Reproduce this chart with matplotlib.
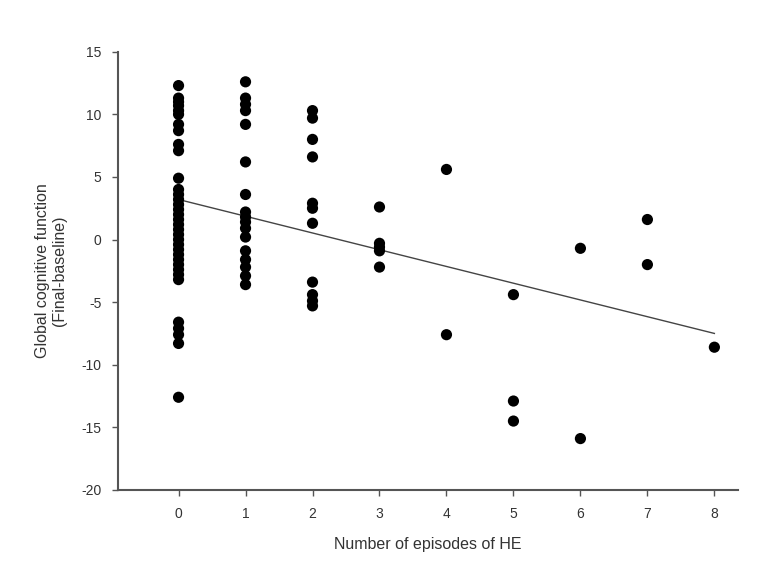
import matplotlib
matplotlib.use("Agg")
import matplotlib.pyplot as plt

plt.rcParams['font.family'] = ['Liberation Sans', 'DejaVu Sans']
plt.rcParams['axes.unicode_minus'] = False

# Data: number of HE episodes vs change in global cognitive function
ep0 = [12.3, 11.3, 11.0, 10.7, 10.3, 10.0, 9.2, 8.7, 7.6, 7.1, 4.9,
       4.0, 3.6, 3.2, 2.8, 2.4, 2.0, 1.6, 1.2, 0.8, 0.4, 0.0, -0.4, -0.8,
       -1.2, -1.6, -2.0, -2.4, -2.8, -3.2, -6.6, -7.1, -7.6, -8.3, -12.6]
ep1 = [12.6, 11.3, 10.8, 10.3, 9.2, 6.2, 3.6, 2.2, 1.8, 1.4, 0.9, 0.2,
       -0.9, -1.6, -2.2, -2.9, -3.6]
ep2 = [10.3, 9.7, 8.0, 6.6, 2.9, 2.5, 1.3, -3.4, -4.4, -4.9, -5.3]
ep3 = [2.6, -0.3, -0.6, -0.9, -2.2]
ep4 = [5.6, -7.6]
ep5 = [-4.4, -12.9, -14.5]
ep6 = [-0.7, -15.9]
ep7 = [1.6, -2.0]
ep8 = [-8.6]
episodes = [0, 1, 2, 3, 4, 5, 6, 7, 8]
groups = [ep0, ep1, ep2, ep3, ep4, ep5, ep6, ep7, ep8]

# Regression line endpoints
fit_x = [0, 8]
fit_y = [3.2, -7.5]

x_ticks = [0, 1, 2, 3, 4, 5, 6, 7, 8]
y_ticks = [-20, -15, -10, -5, 0, 5, 10, 15]

fig = plt.figure(figsize=(7.63, 5.69), dpi=100)
ax = fig.add_axes([0.155, 0.139, 0.812, 0.770])

for xv, ys in zip(episodes, groups):
    ax.scatter([xv] * len(ys), ys, s=65, color='black', edgecolors='none', zorder=3)

ax.plot(fit_x, fit_y, color='#444444', lw=1.0, zorder=2)

ax.set_xlim(-0.9, 8.35)
ax.set_ylim(-20, 15)
ax.set_xticks(x_ticks)
ax.set_yticks(y_ticks)

for s in ['top', 'right']:
    ax.spines[s].set_visible(False)
for s in ['left', 'bottom']:
    ax.spines[s].set_color('#555555')
    ax.spines[s].set_linewidth(1.5)

ax.tick_params(direction='out', length=4, width=1, color='#555555',
               labelsize=10, labelcolor='#333333', pad=8)

ax.set_xlabel('Number of episodes of HE', fontsize=11.5, color='#333333', labelpad=12)
ax.set_ylabel('Global cognitive function\n(Final-baseline)', fontsize=11.5,
              color='#333333', labelpad=10)

fig.savefig('out.png', dpi=100)
